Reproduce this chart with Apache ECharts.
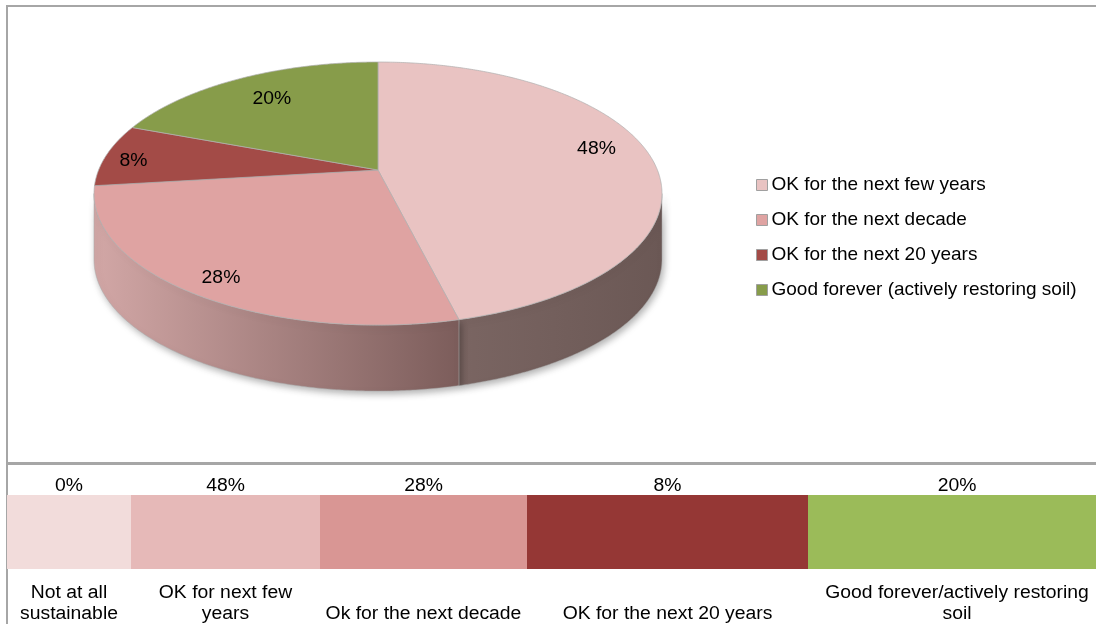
<!DOCTYPE html>
<html><head><meta charset="utf-8">
<script src="https://cdn.jsdelivr.net/npm/echarts@6/dist/echarts.min.js"></script>
<style>html,body{margin:0;padding:0;background:#fff}#main{width:1096px;height:624px}</style>
</head><body><div id="main"></div>
<script>
// ---- data ----
const pieCategories = ['OK for the next few years', 'OK for the next decade', 'OK for the next 20 years', 'Good forever (actively restoring soil)'];
const pieValues = [48, 28, 8, 20];
const stripCategories = ['Not at all\nsustainable', 'OK for next few\nyears', 'Ok for the next decade', 'OK for the next 20 years', 'Good forever/actively restoring\nsoil'];
const stripValues = [0, 48, 28, 8, 20];

// ---- styles / layout ----
const FONT = '"Liberation Sans", Arial, Helvetica, sans-serif';
const TEXT_SCALE_X = 1.075;
const pieTopColors = ['#e9c3c2', '#dfa3a2', '#a34b47', '#879c4a'];
const pieWallStops = [['#7a6562', '#6b5855'], ['#d2a7a6', '#7c5d5b'], ['#8a3e3b', '#6e302e'], ['#74863f', '#5e6d33']];
const pieLabelNudge = [[-5, -9], [-9, 10], [-21, 3], [10, 6]];
const stripColors = ['#f2dcdb', '#e6b9b8', '#d99694', '#953735', '#9bbb59'];
const stripEdges = [7, 131, 320, 527, 808, 1106];
const STRIP = { top: 495, height: 74, valueY: 486, labelBottom: 625, lineHeight: 21 };
const P = { cx: 378, cy: 170, rx: 279.4, ry: 127.3, a: 0.179, depth: 66, labelF: 0.82 };

// ---- derived angles (clockwise from 12 o'clock) ----
const total = pieValues.reduce((s, v) => s + v, 0);
const starts = [], ends = [];
{ let acc = 0; pieValues.forEach(v => { starts.push(acc / total * 360); acc += v; ends.push(acc / total * 360); }); }
const thR = Math.acos(-P.a) * 180 / Math.PI;   // right silhouette
const thL = 360 - thR;                            // left silhouette

function proj(deg, f) {
  const t = deg * Math.PI / 180;
  const u = f * Math.sin(t), v = -f * Math.cos(t);
  const w = 1 - P.a * v;
  return [P.cx + P.rx * u / w, P.cy + P.ry * v / w];
}
function arc(t1, t2) {
  const pts = [];
  const n = Math.max(2, Math.ceil((t2 - t1) / 0.5));
  for (let k = 0; k <= n; k++) pts.push(proj(t1 + (t2 - t1) * k / n, 1));
  return pts;
}

function wallItem(params) {
  const i = params.dataIndex;
  const t1 = Math.max(starts[i], thR), t2 = Math.min(ends[i], thL);
  if (t1 >= t2) return { type: 'group', children: [] };
  const top = arc(t1, t2);
  const bottom = top.map(p => [p[0], p[1] + P.depth]).reverse();
  const xs = top.map(p => p[0]);
  const xMin = Math.min(...xs), xMax = Math.max(...xs);
  return {
    type: 'polygon',
    shape: { points: top.concat(bottom) },
    style: {
      fill: { type: 'linear', x: xMin, y: 0, x2: xMax, y2: 0, global: true,
        colorStops: [{ offset: 0, color: pieWallStops[i][0] }, { offset: 1, color: pieWallStops[i][1] }] },
      stroke: 'rgba(170,170,170,0.7)', lineWidth: 0.7,
      shadowBlur: 7, shadowColor: 'rgba(0,0,0,0.30)', shadowOffsetX: 2, shadowOffsetY: 3
    }
  };
}

function topRender(i) {
  return function () {
    const c = proj(0, 0);
    const pts = [c].concat(arc(starts[i], ends[i]));
    const lp = proj((starts[i] + ends[i]) / 2, P.labelF);
    return {
      type: 'group',
      children: [
        { type: 'polygon', shape: { points: pts },
          style: { fill: pieTopColors[i], stroke: 'rgba(175,175,175,0.9)', lineWidth: 0.8 } },
        { type: 'text', x: lp[0] + pieLabelNudge[i][0], y: lp[1] + pieLabelNudge[i][1], z2: 10, scaleX: TEXT_SCALE_X,
          style: { text: pieValues[i] + '%', fill: '#000', fontSize: 18, fontFamily: FONT, align: 'center', verticalAlign: 'middle' } }
      ]
    };
  };
}

function stripItem(params) {
  const i = params.dataIndex;
  const x0 = stripEdges[i], x1 = stripEdges[i + 1], xc = (x0 + x1) / 2;
  return {
    type: 'group',
    children: [
      { type: 'rect', shape: { x: x0, y: STRIP.top, width: x1 - x0, height: STRIP.height }, style: { fill: stripColors[i] } },
      { type: 'text', x: xc, y: STRIP.valueY, scaleX: TEXT_SCALE_X,
        style: { text: stripValues[i] + '%', fill: '#000', fontSize: 18, fontFamily: FONT, align: 'center', verticalAlign: 'middle' } },
      { type: 'text', x: xc, y: STRIP.labelBottom, scaleX: TEXT_SCALE_X,
        style: { text: stripCategories[i], fill: '#000', fontSize: 18, fontFamily: FONT, align: 'center', verticalAlign: 'bottom', lineHeight: STRIP.lineHeight } }
    ]
  };
}

const series = [
  { type: 'custom', name: 'walls', coordinateSystem: 'none', z: 1, silent: true,
    data: pieValues.map(v => [v]), renderItem: wallItem }
];
pieCategories.forEach((name, i) => {
  series.push({ type: 'custom', name: name, coordinateSystem: 'none', z: 2, silent: true,
    itemStyle: { color: pieTopColors[i] },
    data: [[pieValues[i]]], renderItem: topRender(i) });
});
series.push({ type: 'custom', name: 'strip', coordinateSystem: 'none', z: 2, silent: true,
  data: stripValues.map((v, i) => [i, v]), renderItem: stripItem });

const chart = echarts.init(document.getElementById('main'), null, { renderer: 'canvas' });
chart.setOption({
  animation: false,
  backgroundColor: '#fff',
  legend: {
    data: pieCategories,
    orient: 'vertical',
    left: 756, top: 175, padding: 0,
    icon: 'rect', itemWidth: 11, itemHeight: 11, itemGap: 15,
    itemStyle: { borderColor: '#a0a0a0', borderWidth: 1 },
    textStyle: { color: '#000', fontSize: 19, fontFamily: FONT, lineHeight: 20, padding: [0, 0, 0, -1] },
    selectedMode: false
  },
  graphic: [
    { type: 'rect', shape: { x: 7, y: 5, width: 1089, height: 2 }, style: { fill: '#a6a6a6' }, silent: true },
    { type: 'rect', shape: { x: 6, y: 5, width: 2, height: 619 }, style: { fill: '#a6a6a6' }, silent: true },
    { type: 'rect', shape: { x: 6, y: 462, width: 1090, height: 3 }, style: { fill: '#a6a6a6' }, silent: true }
  ],
  series: series
});
</script>
</body></html>
